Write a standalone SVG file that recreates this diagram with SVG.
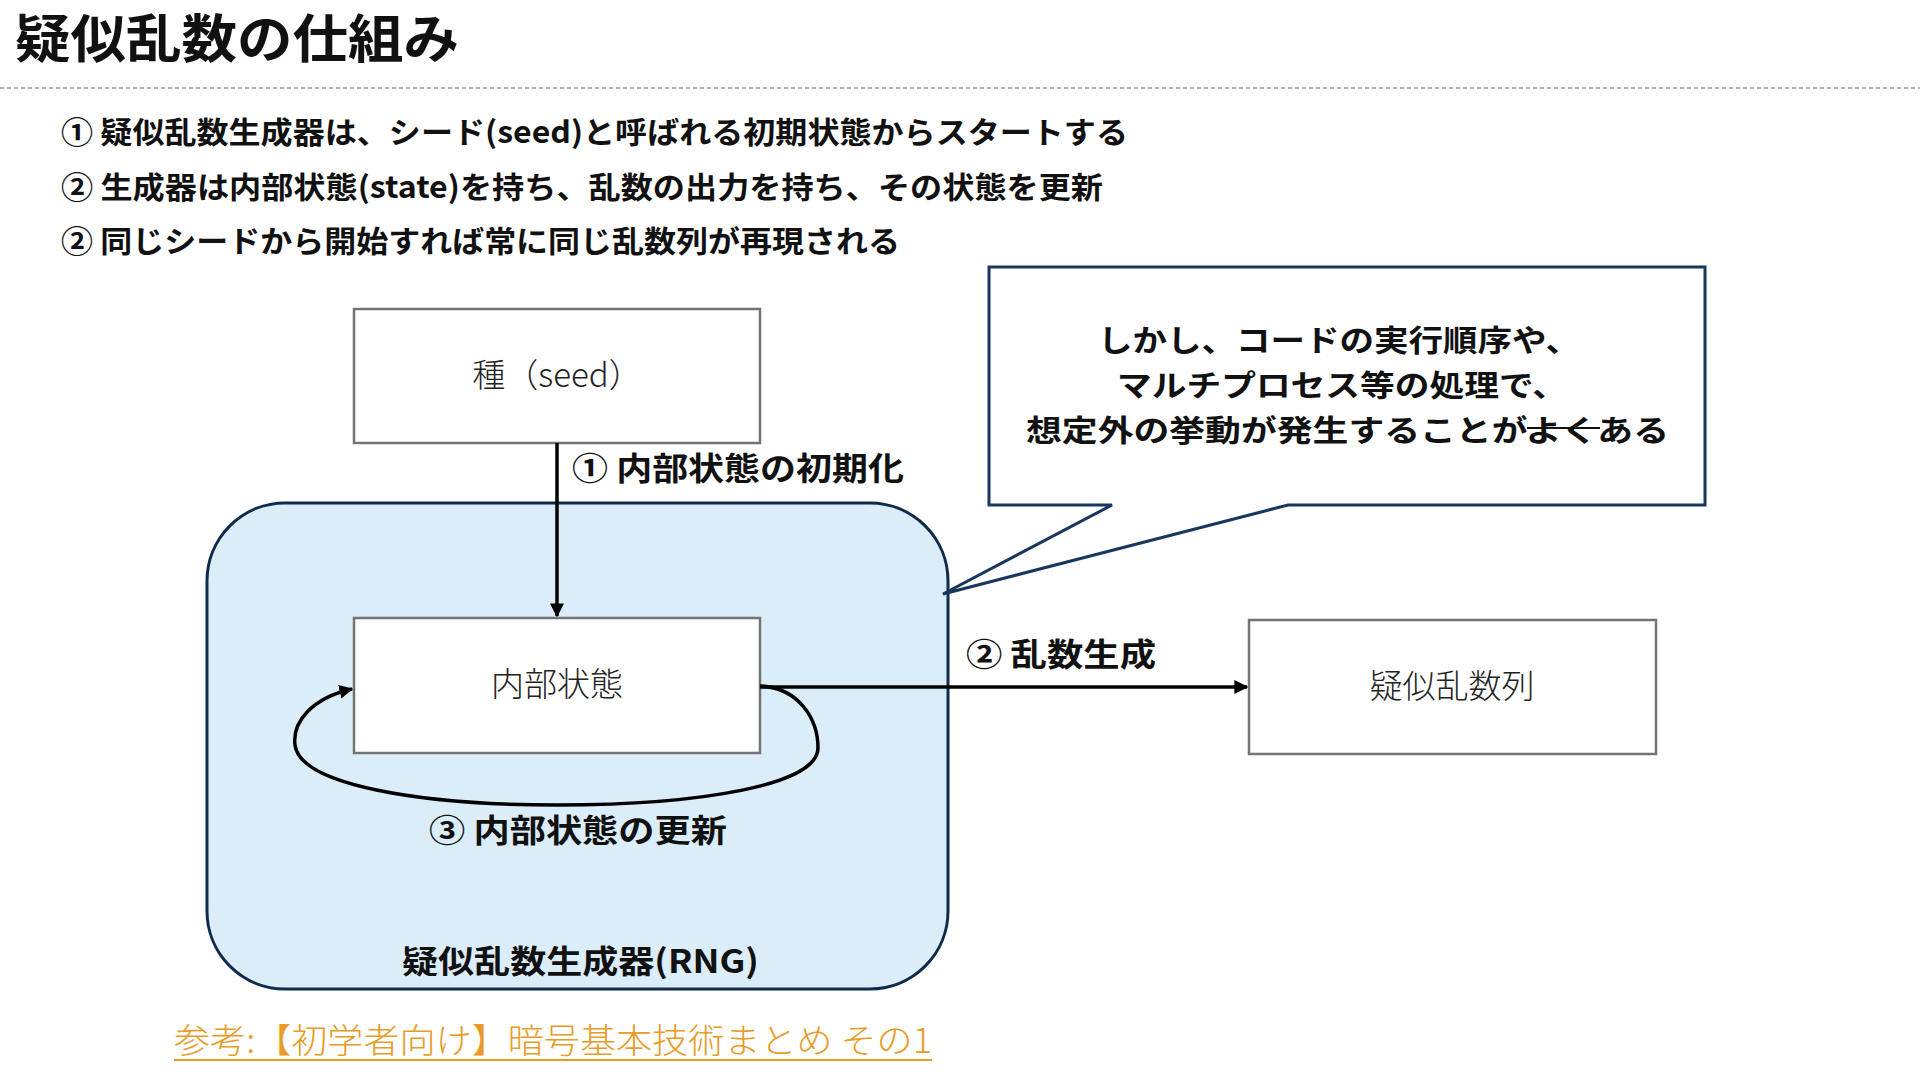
<svg xmlns="http://www.w3.org/2000/svg" width="1920" height="1080" viewBox="0 0 1920 1080">
<style>
text{font-family:"Noto Sans CJK JP","Noto Sans",sans-serif;fill:#111}
.title{font-size:52px;font-weight:700}
.bul{font-size:30px;font-weight:700}
.lbl{font-size:32px;font-weight:700}
.node{font-size:33px;font-weight:300;fill:#222}
.box{fill:#fff;stroke:#737373;stroke-width:2.5}
.conn{fill:none;stroke:#000;stroke-width:3.5}
.call{font-size:30px;font-weight:700}
.ref{font-size:34px;font-weight:300;fill:#E89B26}
</style>
<defs>
<marker id="ah" viewBox="0 0 10 10" refX="9" refY="5" markerWidth="4" markerHeight="4" orient="auto" markerUnits="strokeWidth">
<path d="M0,0 L10,5 L0,10 Z" fill="#000"/>
</marker>
</defs>
<rect width="1920" height="1080" fill="#fff"/>
<text class="title" x="15" y="58" textLength="444" lengthAdjust="spacingAndGlyphs">疑似乱数の仕組み</text>
<line x1="0" y1="88" x2="1920" y2="88" stroke="#9a9a9a" stroke-width="1.5" stroke-dasharray="4 3"/>
<g id="bullets">
<text class="bul" x="61" y="143" textLength="1067" lengthAdjust="spacingAndGlyphs">① 疑似乱数生成器は、シード(seed)と呼ばれる初期状態からスタートする</text>
<text class="bul" x="61" y="198" textLength="1042" lengthAdjust="spacingAndGlyphs">② 生成器は内部状態(state)を持ち、乱数の出力を持ち、その状態を更新</text>
<text class="bul" x="61" y="252" textLength="839" lengthAdjust="spacingAndGlyphs">② 同じシードから開始すれば常に同じ乱数列が再現される</text>
</g>
<g id="rng">
<rect x="207" y="503" width="741" height="486" rx="78" ry="78" fill="#DAEDF8" stroke="#0F2B4C" stroke-width="3"/>
<text class="lbl" x="402" y="973" textLength="357" lengthAdjust="spacingAndGlyphs">疑似乱数生成器(RNG)</text>
</g>
<g id="callout">
<path d="M989,267 H1705 V505 H1288 L943,594 L1112,505 H989 Z" fill="#fff" stroke="#17375E" stroke-width="3" stroke-linejoin="miter"/>
<text class="call" x="1098" y="351" textLength="482" lengthAdjust="spacingAndGlyphs">しかし、コードの実行順序や、</text>
<text class="call" x="1117" y="396" textLength="450" lengthAdjust="spacingAndGlyphs">マルチプロセス等の処理で、</text>
<text class="call" x="1026" y="441" textLength="643" lengthAdjust="spacingAndGlyphs">想定外の挙動が発生することがよくある</text>
<line x1="1527" y1="428" x2="1600" y2="428" stroke="#111" stroke-width="2"/>
</g>
<g id="seed">
<rect class="box" x="354" y="309" width="406" height="134"/>
<text class="node" x="557" y="387" text-anchor="middle">種（seed）</text>
</g>
<g id="state">
<rect class="box" x="354" y="618" width="406" height="135"/>
<text class="node" x="557" y="696" text-anchor="middle">内部状態</text>
</g>
<g id="output">
<rect class="box" x="1249" y="620" width="407" height="134"/>
<text class="node" x="1452" y="698" text-anchor="middle">疑似乱数列</text>
</g>
<g id="connectors">
<line class="conn" x1="557" y1="443" x2="557" y2="616" marker-end="url(#ah)"/>
<line class="conn" x1="760" y1="687" x2="1247" y2="687" marker-end="url(#ah)"/>
<path class="conn" d="M760,686 C800,688 818,720 818,748 C818,785 700,805 557,805 C420,805 300,785 295,745 C292,722 312,698 352,689" marker-end="url(#ah)"/>
<text class="lbl" x="572" y="480" textLength="332" lengthAdjust="spacingAndGlyphs">① 内部状態の初期化</text>
<text class="lbl" x="966" y="666" textLength="190" lengthAdjust="spacingAndGlyphs">② 乱数生成</text>
<text class="lbl" x="429" y="842" textLength="298" lengthAdjust="spacingAndGlyphs">③ 内部状態の更新</text>
</g>
<g id="reference">
<text class="ref" x="174" y="1053" textLength="758" lengthAdjust="spacingAndGlyphs">参考:【初学者向け】暗号基本技術まとめ その1</text>
<line x1="174" y1="1060" x2="932" y2="1060" stroke="#E89B26" stroke-width="2"/>
</g>
</svg>
